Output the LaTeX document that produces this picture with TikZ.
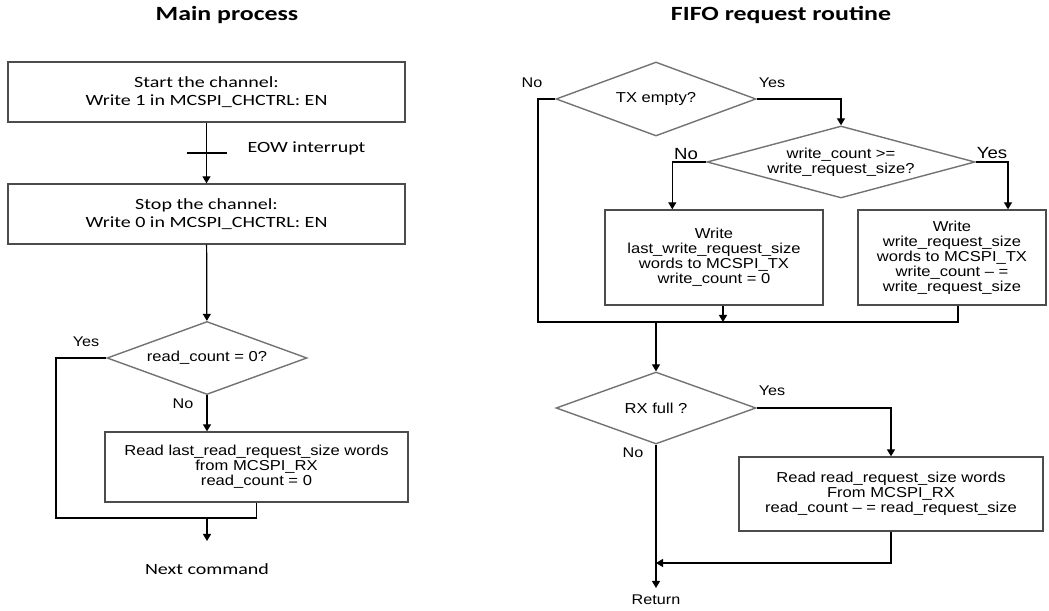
\documentclass[tikz,border=0pt]{standalone}
\usepackage{fontspec}
\usetikzlibrary{shapes.geometric, arrows.meta, calc}
\newfontfamily\calfont{Carlito}[FakeStretch=1.28]
\newfontfamily\arifont{Liberation Sans}[FakeStretch=1.15]
\newcommand\pxu{0.02cm}

\begin{document}
\begin{tikzpicture}[x=0.02cm, y=-0.02cm, line width=0.7pt,
  arr/.style={-{Triangle[width=4.6pt,length=4pt]}},
  box/.style={draw=black!70, line width=0.8pt, rectangle, inner sep=0pt, align=center},
  cbox/.style={box, font=\calfont\fontsize{8.9}{10.4}\selectfont},
  abox/.style={box, font=\arifont\fontsize{8.2}{8.5}\selectfont},
  dec/.style={draw=black!55, line width=0.8pt, diamond, inner sep=0pt, align=center,
    font=\arifont\fontsize{8.2}{8.5}\selectfont},
  yn/.style={inner sep=0pt, font=\arifont\fontsize{8}{9}\selectfont},
  ynbig/.style={inner sep=0pt, font=\arifont\fontsize{9.2}{10}\selectfont},
  ctext/.style={inner sep=0pt, font=\calfont\fontsize{8.9}{10.4}\selectfont},
  ttl/.style={inner sep=0pt, font=\calfont\bfseries\fontsize{11.5}{13}\selectfont}]
  \useasboundingbox (0,0) rectangle (1049,611);

  % Main process
  \node[ttl] (t1) at (227,15) {Main process};
  \node[cbox, minimum width=397*\pxu, minimum height=60*\pxu] (start) at (206.5,92)
    {Start the channel:\\Write 1 in MCSPI\_CHCTRL: EN};
  \node[cbox, minimum width=397*\pxu, minimum height=60*\pxu] (stop) at (206.5,214)
    {Stop the channel:\\Write 0 in MCSPI\_CHCTRL: EN};
  \node[dec, aspect=2.74, minimum width=200*\pxu, minimum height=73*\pxu] (rc) at (207,358) {read\_count = 0?};
  \node[abox, minimum width=303*\pxu, minimum height=70*\pxu] (rdlast) at (256.5,467)
    {Read last\_read\_request\_size words\\from MCSPI\_RX\\read\_count = 0};
  \node[ctext, anchor=west] (eow) at (247,148) {EOW interrupt};
  \node[ctext] (next) at (207,569) {Next command};
  \node[yn] (y1) at (86,342) {Yes};
  \node[yn] (n1) at (183,404) {No};

  \coordinate (tk) at ($(start.south)!0.5!(stop.north)$);
  \coordinate (lp) at (56,518);
  \coordinate (nx) at (207,541);

  \draw[arr] (start) -- (stop);
  \draw ($(tk)+(-20,0)$) -- ($(tk)+(20,0)$);
  \draw[arr] (stop) -- (rc);
  \draw[arr] (rc.south) -- (rc.south |- rdlast.north);
  \draw (rc.west) -| (lp) -| (rdlast.south);
  \draw[arr] (nx |- lp) -- (nx);

  % FIFO request routine
  \node[ttl] (t2) at (781,15) {FIFO request routine};
  \node[dec, aspect=2.7, minimum width=200*\pxu, minimum height=74*\pxu] (txe) at (656,99) {TX empty?};
  \node[dec, aspect=3.72, minimum width=268*\pxu, minimum height=72*\pxu] (wcnt) at (841,162)
    {write\_count >=\\write\_request\_size?};
  \node[abox, minimum width=218*\pxu, minimum height=95*\pxu] (wlast) at (714,257.5)
    {Write\\last\_write\_request\_size\\words to MCSPI\_TX\\write\_count = 0};
  \node[abox, minimum width=188*\pxu, minimum height=95*\pxu] (wreq) at (952,257.5)
    {Write\\write\_request\_size\\words to MCSPI\_TX\\write\_count \textendash{} =\\write\_request\_size};
  \node[dec, aspect=2.78, minimum width=200*\pxu, minimum height=72*\pxu] (rxf) at (656,408) {RX full ?};
  \node[abox, minimum width=304*\pxu, minimum height=74*\pxu] (rdreq) at (891,494)
    {Read read\_request\_size words\\From MCSPI\_RX\\read\_count \textendash{} = read\_request\_size};
  \node[yn] (ret) at (656,600) {Return};
  \node[yn] (n2) at (532,83) {No};
  \node[yn] (y2) at (772,83) {Yes};
  \node[ynbig] (n3) at (686,154) {No};
  \node[ynbig] (y3) at (992,153) {Yes};
  \node[yn] (y4) at (772,391) {Yes};
  \node[yn] (n4) at (633,453) {No};

  \coordinate (mgl) at (538,322);
  \coordinate (wl) at ($(wlast.south)+(9,0)$);
  \coordinate (jn) at (656,563);
  \coordinate (rete) at (656,588);

  \draw[arr] (txe.east) -| (wcnt.north);
  \draw (txe.west) -| (mgl) -| ($(wreq.south)+(6,0)$);
  \draw[arr] (wcnt.west) -| ($(wlast.north west)+(68,0)$);
  \draw[arr] (wcnt.east) -| ($(wreq.north)+(56,0)$);
  \draw[arr] (wl) -- (wl |- mgl);
  \draw[arr] (txe.south |- mgl) -- (rxf.north);
  \draw[arr] (rxf.east) -| (rdreq.north);
  \draw[arr] (rdreq.south) |- (jn);
  \draw[arr] (rxf.south) -- (rete);
\end{tikzpicture}
\end{document}
